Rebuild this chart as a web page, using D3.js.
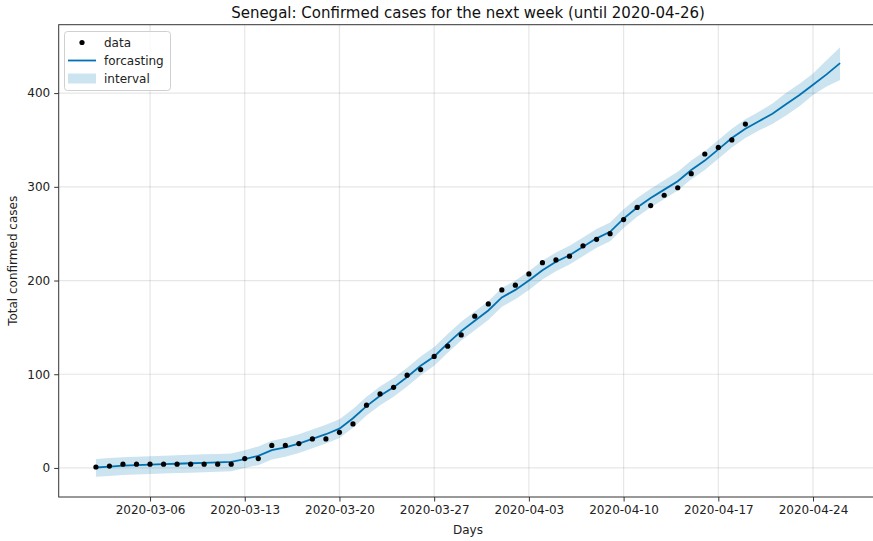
<!DOCTYPE html>
<html>
<head>
<meta charset="utf-8">
<script src="https://cdn.jsdelivr.net/npm/d3@7"></script>
<style>
  body { margin: 0; background: #fff; }
  svg { display: block; font-family: "DejaVu Sans", sans-serif; }
</style>
</head>
<body>
<svg id="chart" width="873" height="541"></svg>
<script>
// ---- data ----
const obsDates = ["2020-03-02","2020-03-03","2020-03-04","2020-03-05","2020-03-06","2020-03-07","2020-03-08","2020-03-09","2020-03-10","2020-03-11","2020-03-12","2020-03-13","2020-03-14","2020-03-15","2020-03-16","2020-03-17","2020-03-18","2020-03-19","2020-03-20","2020-03-21","2020-03-22","2020-03-23","2020-03-24","2020-03-25","2020-03-26","2020-03-27","2020-03-28","2020-03-29","2020-03-30","2020-03-31","2020-04-01","2020-04-02","2020-04-03","2020-04-04","2020-04-05","2020-04-06","2020-04-07","2020-04-08","2020-04-09","2020-04-10","2020-04-11","2020-04-12","2020-04-13","2020-04-14","2020-04-15","2020-04-16","2020-04-17","2020-04-18","2020-04-19"];
const observed = [1,2,4,4,4,4,4,4,4,4,4,10,10,24,24,26,31,31,38,47,67,79,86,99,105,119,130,142,162,175,190,195,207,219,222,226,237,244,250,265,278,280,291,299,314,335,342,350,367];

const fcstDates = ["2020-03-02","2020-03-03","2020-03-04","2020-03-05","2020-03-06","2020-03-07","2020-03-08","2020-03-09","2020-03-10","2020-03-11","2020-03-12","2020-03-13","2020-03-14","2020-03-15","2020-03-16","2020-03-17","2020-03-18","2020-03-19","2020-03-20","2020-03-21","2020-03-22","2020-03-23","2020-03-24","2020-03-25","2020-03-26","2020-03-27","2020-03-28","2020-03-29","2020-03-30","2020-03-31","2020-04-01","2020-04-02","2020-04-03","2020-04-04","2020-04-05","2020-04-06","2020-04-07","2020-04-08","2020-04-09","2020-04-10","2020-04-11","2020-04-12","2020-04-13","2020-04-14","2020-04-15","2020-04-16","2020-04-17","2020-04-18","2020-04-19","2020-04-20","2020-04-21","2020-04-22","2020-04-23","2020-04-24","2020-04-25","2020-04-26"];
const yhat = [0.5,1.5,2.5,3,3.5,4,4.5,5,5.5,6,6.5,9.5,13,19,22,26,31,36,42,53,66,77,86,97,109,119,133,146,157,168,182,190,200,211,220,227,236,245,252,266,278,288,297,306,318,328,340,352,362,370,378,388,398,409,420,432];
const yLower = [-9.5,-8.5,-7.5,-7,-6.5,-6,-5.5,-5,-4.5,-4,-3.5,0,3,9,12,16,21,26,32,43,56,67,76,87,99,109,123,136,147,158,172,180,190,201,210,217,226,235,242,256,268,278,287,296,308,318,330,342,352,360,367,376,386,398,407,414];
const yUpper = [9.5,10.5,11.5,12,12.5,13,13.5,14,14.5,15,15.5,19,23,29,32,36,41,46,52,63,76,87,96,107,119,129,143,156,167,178,192,200,210,221,230,237,246,255,262,276,288,298,307,316,328,338,350,362,372,380,389,400,410,421,435,449];

const xTicks = ["2020-03-06","2020-03-13","2020-03-20","2020-03-27","2020-04-03","2020-04-10","2020-04-17","2020-04-24"];
const yTicks = [0,100,200,300,400];

// ---- layout ----
const svg = d3.select("#chart");
const pL = 58.7, pR = 877.3, pT = 24.7, pB = 497;
const parse = d3.utcParse("%Y-%m-%d");
const x = d3.scaleUtc()
  .domain([new Date(Date.UTC(2020,1,28,6)), new Date(Date.UTC(2020,3,28,18))])
  .range([pL, pR]);
const y = d3.scaleLinear().domain([-31, 473]).range([pB, pT]);

const fc = fcstDates.map((d,i) => ({d: parse(d), yhat: yhat[i], lo: yLower[i], hi: yUpper[i]}));
const ob = obsDates.map((d,i) => ({d: parse(d), v: observed[i]}));

svg.append("rect").attr("width",873).attr("height",541).attr("fill","#fff");

// grid
const g = svg.append("g");
g.selectAll(".vg").data(xTicks).enter().append("line")
  .attr("x1", d => x(parse(d))).attr("x2", d => x(parse(d)))
  .attr("y1", pT).attr("y2", pB)
  .attr("stroke", "#808080").attr("stroke-opacity", 0.2).attr("stroke-width", 1.2);
g.selectAll(".hg").data(yTicks).enter().append("line")
  .attr("x1", pL).attr("x2", pR)
  .attr("y1", d => y(d)).attr("y2", d => y(d))
  .attr("stroke", "#808080").attr("stroke-opacity", 0.2).attr("stroke-width", 1.2);

// interval
svg.append("path").datum(fc)
  .attr("d", d3.area().x(d => x(d.d)).y0(d => y(d.lo)).y1(d => y(d.hi)))
  .attr("fill", "#0072B2").attr("fill-opacity", 0.2);

// forecast line
svg.append("path").datum(fc)
  .attr("d", d3.line().x(d => x(d.d)).y(d => y(d.yhat)))
  .attr("fill", "none").attr("stroke", "#0072B2").attr("stroke-width", 1.8);

// data points
svg.selectAll(".pt").data(ob).enter().append("circle")
  .attr("cx", d => x(d.d)).attr("cy", d => y(d.v)).attr("r", 2.6).attr("fill", "#000");

// axes
const xAxis = d3.axisBottom(x).tickValues(xTicks.map(parse)).tickFormat(d3.utcFormat("%Y-%m-%d")).tickSize(4.5).tickPadding(4);
const xg = svg.append("g").attr("transform", `translate(0,${pB})`).call(xAxis);
xg.select(".domain").remove();
const yAxis = d3.axisLeft(y).tickValues(yTicks).tickSize(4.5).tickPadding(4);
const yg = svg.append("g").attr("transform", `translate(${pL},0)`).call(yAxis);
yg.select(".domain").remove();
[xg, yg].forEach(a => {
  a.selectAll("text").attr("font-family", "DejaVu Sans").attr("font-size", 12).attr("fill", "#222");
  a.selectAll("line").attr("stroke", "#333").attr("stroke-width", 1);
});

// spines
svg.append("rect").attr("x", pL).attr("y", pT).attr("width", pR-pL).attr("height", pB-pT)
  .attr("fill", "none").attr("stroke", "#333").attr("stroke-width", 1);

// labels
svg.append("text").attr("x", (pL+pR)/2).attr("y", 18).attr("text-anchor", "middle")
  .attr("font-size", 15).attr("fill", "#111").text("Senegal: Confirmed cases for the next week (until 2020-04-26)");
svg.append("text").attr("x", (pL+pR)/2).attr("y", 534).attr("text-anchor", "middle")
  .attr("font-size", 12).attr("fill", "#222").text("Days");
svg.append("text").attr("transform", `translate(17,${(pT+pB)/2}) rotate(-90)`).attr("text-anchor", "middle")
  .attr("font-size", 12).attr("fill", "#222").text("Total confirmed cases");

// legend
const lg = svg.append("g");
lg.append("rect").attr("x", 64.5).attr("y", 31.5).attr("width", 106).attr("height", 59).attr("rx", 3)
  .attr("fill", "#fff").attr("fill-opacity", 0.8).attr("stroke", "#d0d0d0");
lg.append("circle").attr("cx", 82).attr("cy", 42.5).attr("r", 2.6).attr("fill", "#000");
lg.append("line").attr("x1", 68).attr("x2", 96).attr("y1", 60.5).attr("y2", 60.5).attr("stroke", "#0072B2").attr("stroke-width", 1.8);
lg.append("rect").attr("x", 68).attr("y", 73.5).attr("width", 28).attr("height", 10).attr("fill", "#0072B2").attr("fill-opacity", 0.2);
const labels = ["data","forcasting","interval"];
lg.selectAll(".lt").data(labels).enter().append("text")
  .attr("x", 104).attr("y", (d,i) => 47 + i*18).attr("font-size", 12).attr("fill", "#222").text(d => d);
</script>
</body>
</html>
